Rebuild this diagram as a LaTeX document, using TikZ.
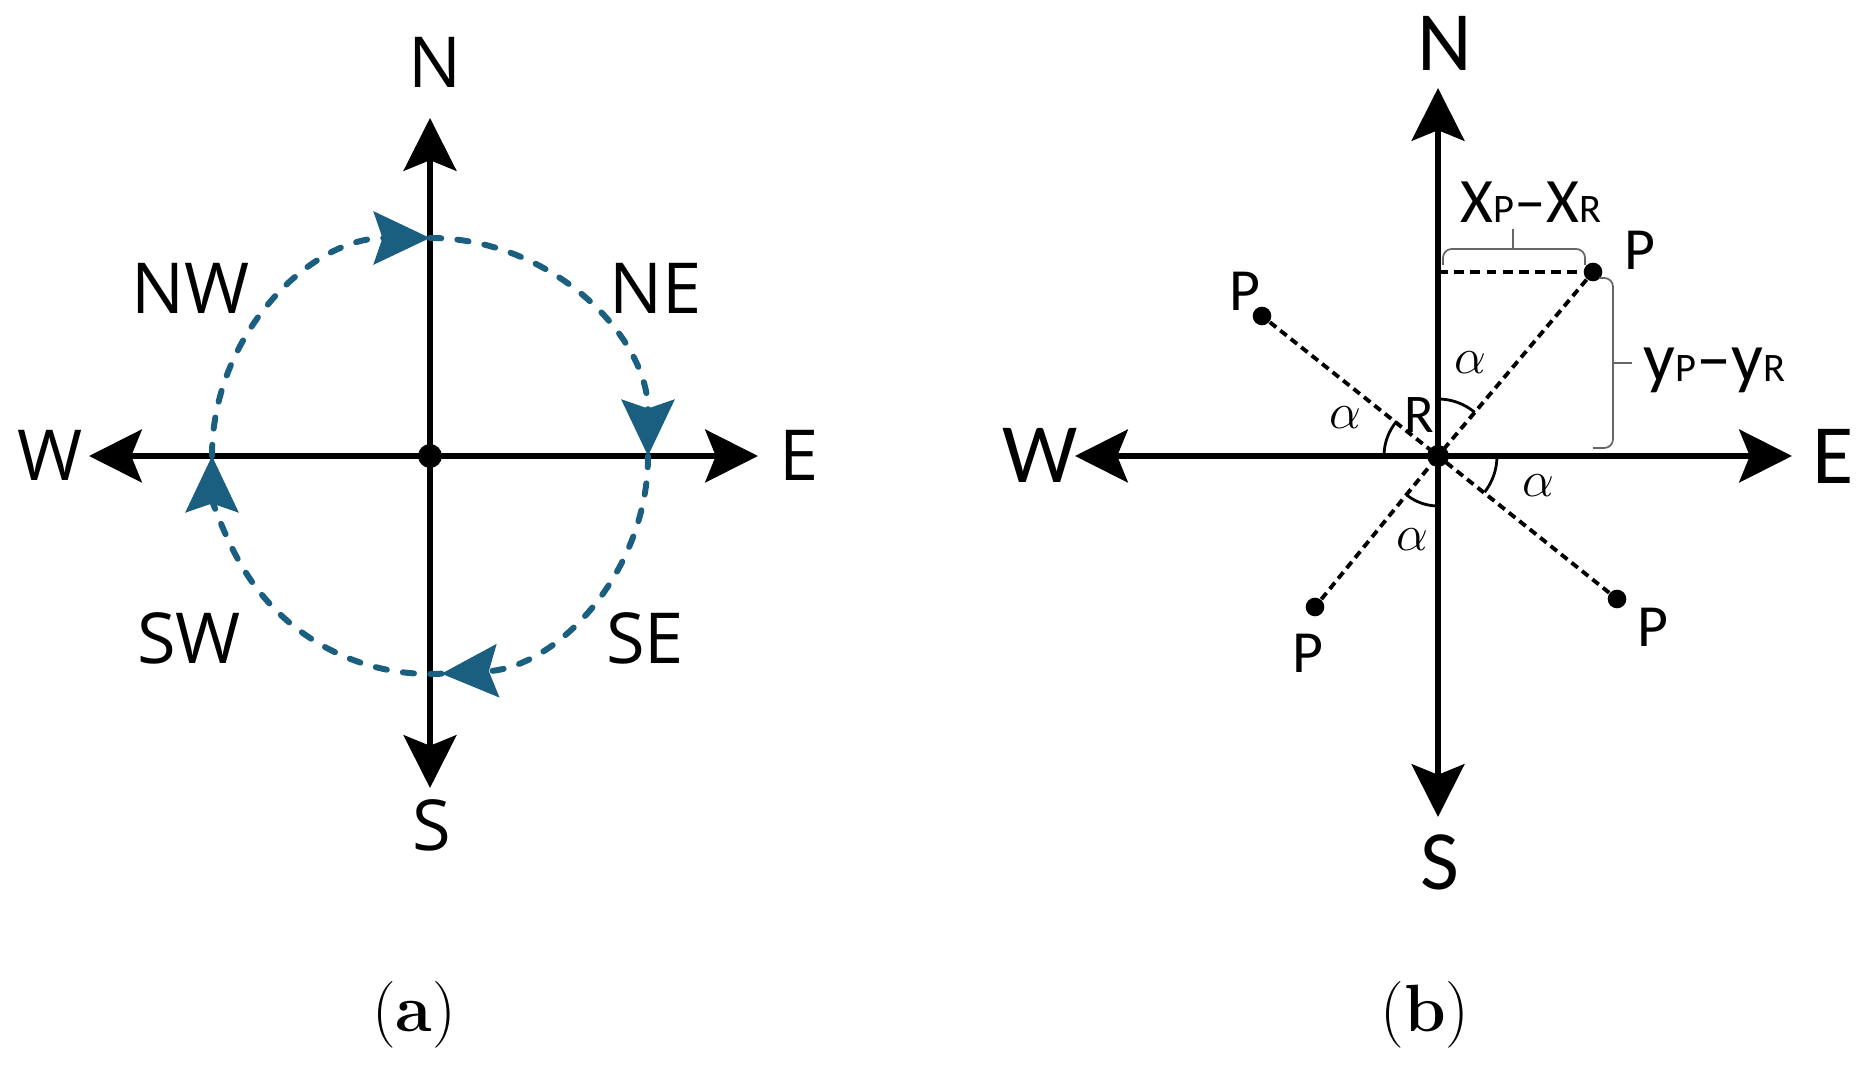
\documentclass[tikz,border=0pt]{standalone}
\usepackage{fontspec}
\usetikzlibrary{arrows.meta}
\newfontfamily\opensans{Open Sans}
\newfontfamily\carlito{Carlito}
\definecolor{turnblue}{RGB}{26,95,128}
\tikzset{
  axis/.style={line width=1.7pt, -{Stealth[length=15pt,width=15pt,inset=3pt]}},
  turn/.style={turnblue, line width=1.7pt, line cap=round, dash pattern=on 3.2pt off 4.6pt,
    -{Stealth[length=16pt,width=15pt,inset=2.5pt]}},
  dira/.style={font=\opensans\fontsize{20}{20}\selectfont, inner sep=0pt},
  dirb/.style={font=\carlito\fontsize{24}{24}\selectfont, inner sep=0pt},
  plab/.style={font=\carlito\fontsize{17}{17}\selectfont, inner sep=0pt},
  anglab/.style={font=\fontsize{14.4}{14.4}\selectfont, inner sep=0pt},
  sublab/.style={font=\fontsize{19}{19}\selectfont, inner sep=0pt},
  dot/.style={circle, fill, inner sep=0pt, minimum size=#1},
  ray/.style={line width=1.1pt, dash pattern=on 2.3pt off 1.5pt},
  proj/.style={line width=1.3pt, dash pattern=on 2.8pt off 1.8pt},
  angarc/.style={line width=0.8pt},
  bracket/.style={black!60, line width=0.5pt, rounded corners=2.5pt}
}
\begin{document}
\begin{tikzpicture}[x=0.01cm, y=0.01cm]
  \useasboundingbox (0,0) rectangle (1866,1073);
  % (a)
  \node[dot=6.8pt] (Ca) at (430,617) {};
  \coordinate (Na) at (430,955);
  \coordinate (Sa) at (430,285);
  \coordinate (Wa) at (89,617);
  \coordinate (Ea) at (758,617);
  \draw[axis] (Ca.center) -- (Na);
  \draw[axis] (Ca.center) -- (Sa);
  \draw[axis] (Ca.center) -- (Wa);
  \draw[axis] (Ca.center) -- (Ea);
  \draw[turn] (Ca.center) ++(180:218) arc[start angle=180, end angle=90, radius=218];
  \draw[turn] (Ca.center) ++(90:218) arc[start angle=90, end angle=0, radius=218];
  \draw[turn] (Ca.center) ++(0:218) arc[start angle=0, end angle=-87, radius=218];
  \draw[turn] (Ca.center) ++(-87:218) arc[start angle=-87, end angle=-180, radius=218];
  \node[dira] (na) at (435,1011) {N};
  \node[dira] (sa) at (432,248) {S};
  \node[dira] (wa) at (50,618) {W};
  \node[dira] (ea) at (799,618) {E};
  \node[dira] (nwa) at (191,785) {NW};
  \node[dira] (nea) at (656,785) {NE};
  \node[dira] (swa) at (189,435) {SW};
  \node[dira] (sea) at (645,435) {SE};
  \node[sublab] (capa) at (414,58) {(\textbf{a})};
  % (b)
  \node[dot=6.2pt] (R) at (1438,617) {};
  \coordinate (Nb) at (1438,985);
  \coordinate (Sb) at (1438,256);
  \coordinate (Wb) at (1075,617);
  \coordinate (Eb) at (1792,617);
  \coordinate (Q) at (1438,801);
  \node[dot=5.3pt] (P1) at (1593,801) {};
  \node[dot=5.3pt] (P2) at (1262,757) {};
  \node[dot=5.3pt] (P3) at (1315,466) {};
  \node[dot=5.3pt] (P4) at (1617,474) {};
  \draw[ray] (P1) -- (R.center);
  \draw[ray] (P2) -- (R.center);
  \draw[ray] (P3) -- (R.center);
  \draw[ray] (P4) -- (R.center);
  \draw[proj] (Q) -- (P1);
  \draw[axis] (R.center) -- (Nb);
  \draw[axis] (R.center) -- (Sb);
  \draw[axis] (R.center) -- (Wb);
  \draw[axis] (R.center) -- (Eb);
  \draw[angarc] (R.center) ++(180:54) arc[start angle=180, end angle=140, radius=54];
  \draw[angarc] (R.center) ++(90:57) arc[start angle=90, end angle=50, radius=57];
  \draw[angarc] (R.center) ++(0:59) arc[start angle=0, end angle=-38, radius=59];
  \draw[angarc] (R.center) ++(270:50) arc[start angle=270, end angle=231, radius=50];
  \draw[bracket] (1443,808) |- (1513,824) -| (1585,808);
  \draw[bracket] (1513,824) -- (1513,844);
  \draw[bracket] (1599,795) -| (1613,710) |- (1593,625);
  \draw[bracket] (1613,710) -- (1632,710);
  \node[dirb] (nb) at (1445,1030) {N};
  \node[dirb] (sb) at (1440,211) {S};
  \node[dirb] (wb) at (1040,618) {W};
  \node[dirb] (eb) at (1833,617) {E};
  \node[plab] (p1) at (1640,823) {P};
  \node[plab] (p2) at (1245,782) {P};
  \node[plab] (p3) at (1308,420) {P};
  \node[plab] (p4) at (1653,446) {P};
  \node[plab, font=\carlito\fontsize{15.5}{15.5}\selectfont] (r) at (1419,658) {R};
  \node[anglab] (a1) at (1470,710) {$\alpha$};
  \node[anglab] (a2) at (1345,655) {$\alpha$};
  \node[anglab] (a3) at (1538,587) {$\alpha$};
  \node[anglab] (a4) at (1412,533) {$\alpha$};
  \node[plab, font=\carlito\fontsize{18}{18}\selectfont] (dx) at (1531,871)
    {X{\fontsize{11.5}{11.5}\selectfont P}–X{\fontsize{11.5}{11.5}\selectfont R}};
  \node[plab, font=\carlito\fontsize{20}{20}\selectfont, anchor=west] (dy) at (1643,703)
    {y{\fontsize{11.5}{11.5}\selectfont P}–y{\fontsize{11.5}{11.5}\selectfont R}};
  \node[sublab] (capb) at (1425,58) {(\textbf{b})};
\end{tikzpicture}
\end{document}
